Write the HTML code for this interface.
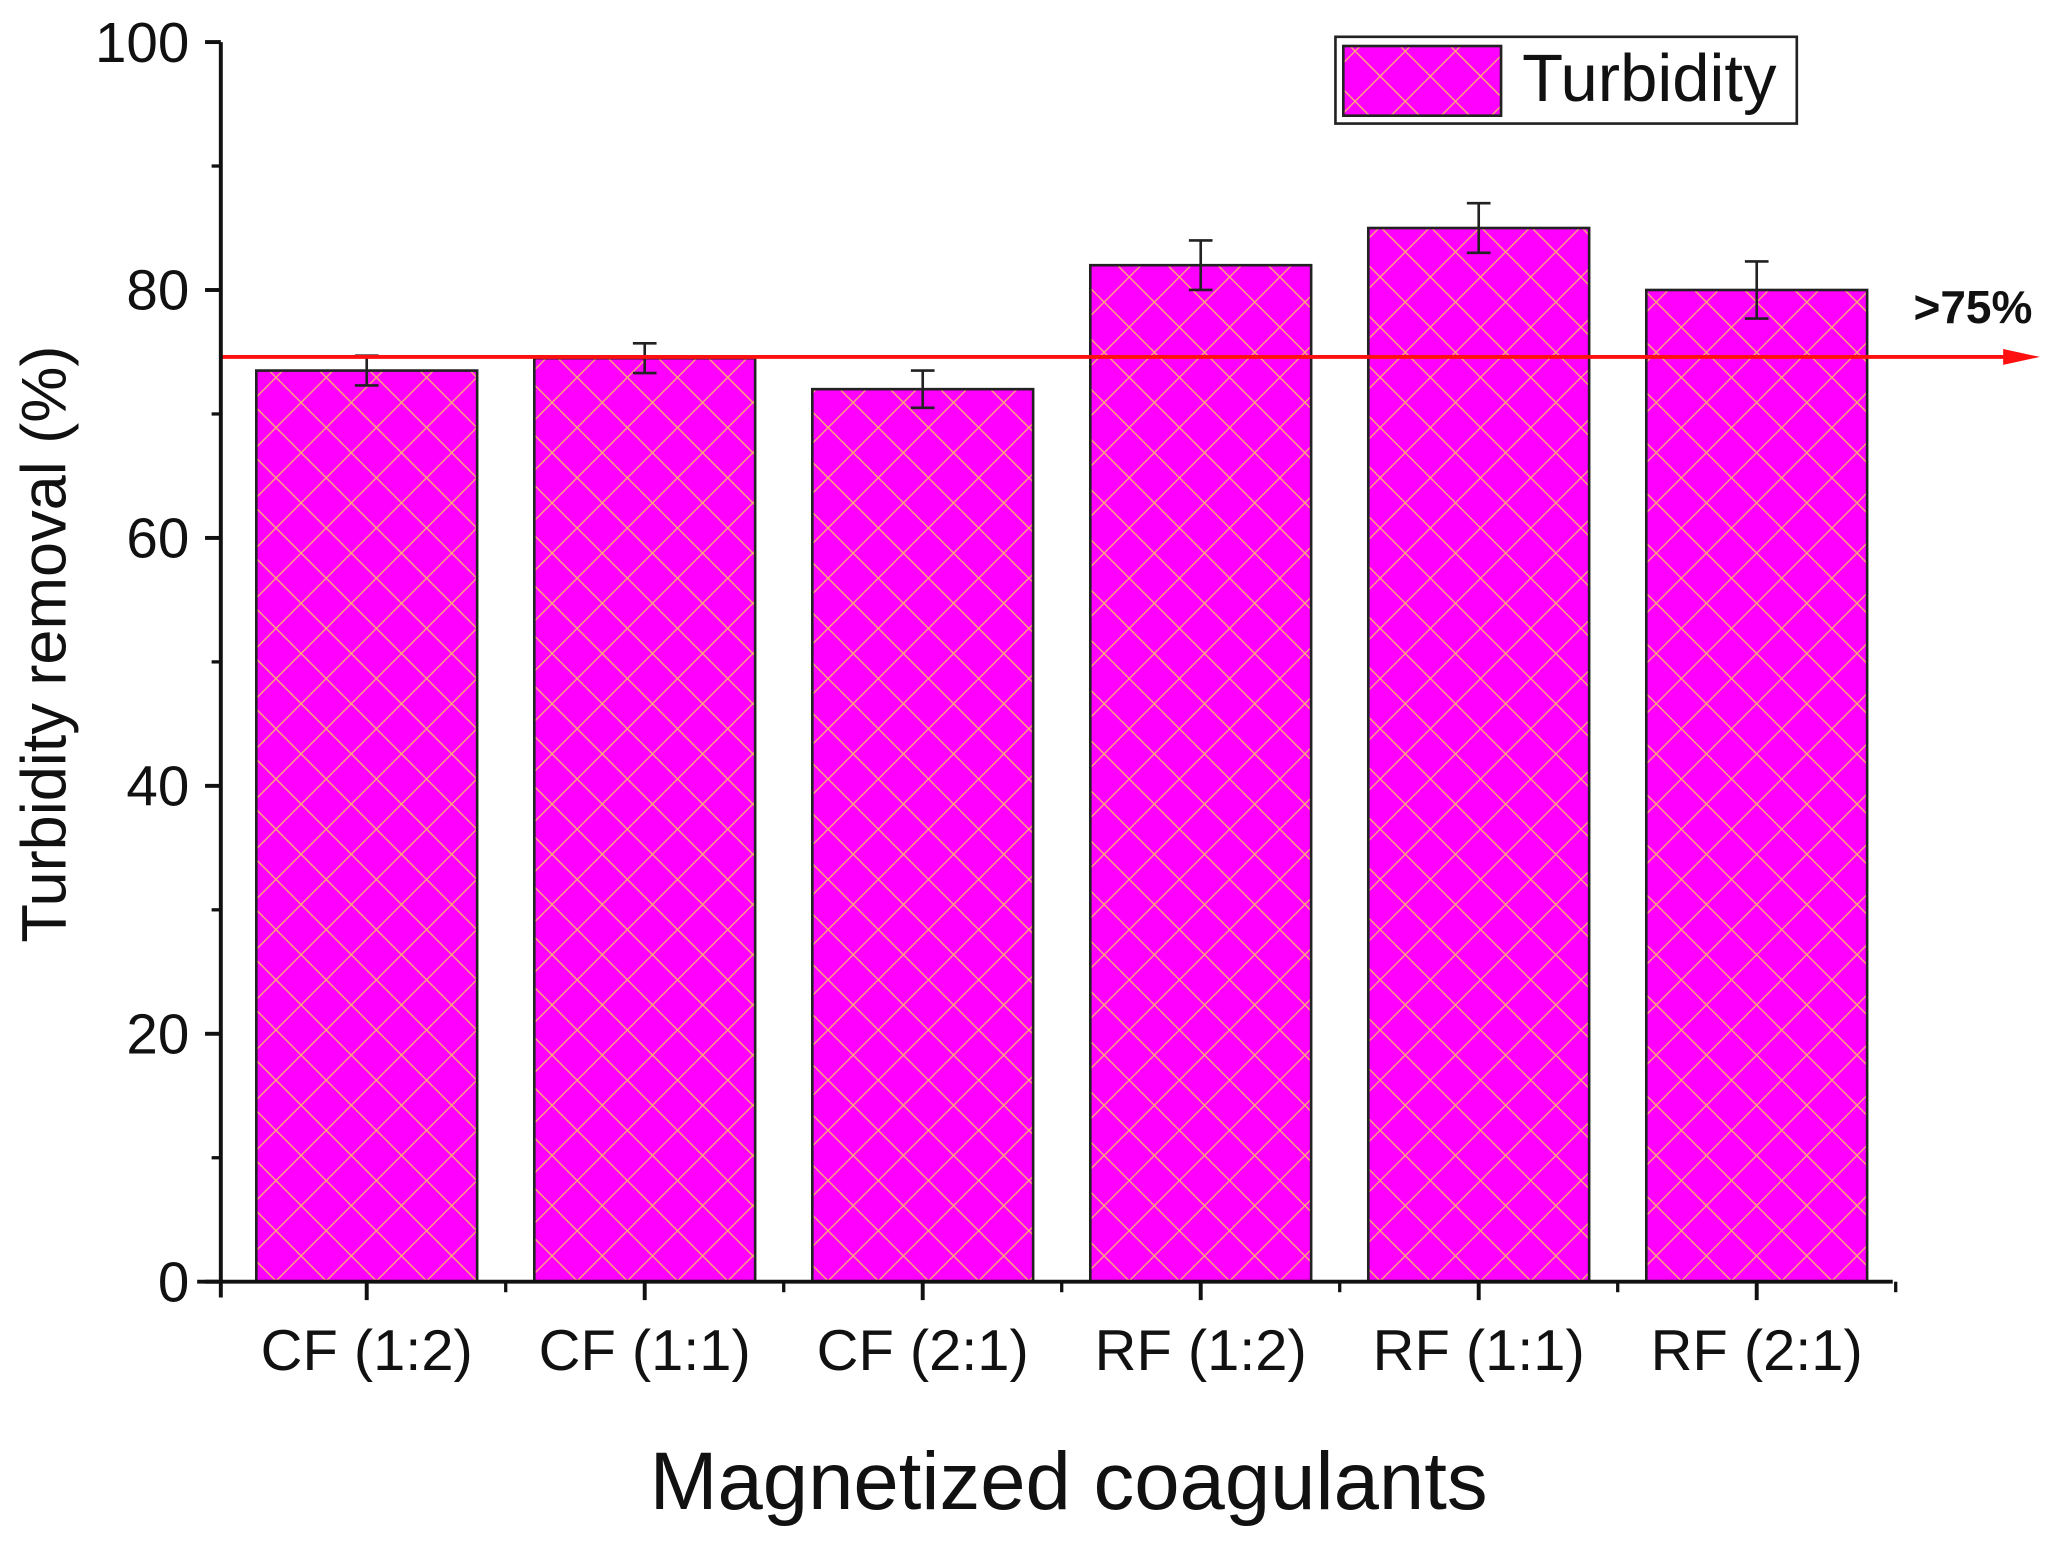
<!DOCTYPE html>
<html><head><meta charset="utf-8"><style>
html,body{margin:0;padding:0;background:#fff;}
svg{display:block;}
text{font-family:"Liberation Sans",Arial,sans-serif;fill:#111;}
</style></head><body>
<svg id="chart" width="2061" height="1542" viewBox="0 0 1568 1173" preserveAspectRatio="none" xmlns="http://www.w3.org/2000/svg">
<defs>
<pattern id="hatch" patternUnits="userSpaceOnUse" width="27" height="27" patternTransform="rotate(45)">
<rect width="27" height="27" fill="#ff00ff"/>
<line x1="0" y1="0" x2="27" y2="0" stroke="#ffb070" stroke-width="2"/>
<line x1="0" y1="0" x2="0" y2="27" stroke="#ffb070" stroke-width="2"/>
</pattern>
</defs>
<g id="plot"></g>
</svg>
<script>
const categories=["CF (1:2)","CF (1:1)","CF (2:1)","RF (1:2)","RF (1:1)","RF (2:1)"];
const values=[73.5,74.5,72,82,85,80];
const errors=[1.2,1.2,1.5,2.0,2.0,2.3];
const yTicks=[0,20,40,60,80,100];
const thresholdValue=74.6;
const thresholdLabel=">75%";

const NS="http://www.w3.org/2000/svg";
const g=document.getElementById('plot');
const X0=168,X1=1440,Y0=975,Y1=32;
const ymin=0,ymax=100;
function y(v){return Y0-(v-ymin)/(ymax-ymin)*(Y0-Y1);}
const step=211.5, firstC=279;
function xc(i){return firstC+i*step;}
const barW=168;
function el(tag,attrs,parent){const e=document.createElementNS(NS,tag);for(const k in attrs)e.setAttribute(k,attrs[k]);(parent||g).appendChild(e);return e;}

values.forEach((v,i)=>{
  const r=el('rect',{x:xc(i)-barW/2,y:y(v),width:barW,height:Y0-y(v),fill:'url(#hatch)',stroke:'#222','stroke-width':2});
  
  
});
values.forEach((v,i)=>{
  const e=errors[i];
  const eg=el('g',{stroke:'#222','stroke-width':2});
  
  
  el('line',{x1:xc(i),x2:xc(i),y1:y(v+e),y2:y(v-e)},eg);
  el('line',{x1:xc(i)-9,x2:xc(i)+9,y1:y(v+e),y2:y(v+e)},eg);
  el('line',{x1:xc(i)-9,x2:xc(i)+9,y1:y(v-e),y2:y(v-e)},eg);
});
const ty=y(thresholdValue);
const th=el('line',{x1:X0,x2:1535,y1:ty,y2:ty,stroke:'#ff1010','stroke-width':3});


const ar=el('polygon',{points:`1524,${ty-6} 1552,${ty} 1524,${ty+6}`,fill:'#ff1010'});


const tl=el('text',{x:1501,y:ty-26,'font-size':35,'font-weight':'bold','text-anchor':'middle'});
tl.textContent=thresholdLabel;



const ya=el('line',{x1:X0,x2:X0,y1:Y1,y2:Y0+12,stroke:'#111','stroke-width':3});


const xa=el('line',{x1:X0-18,x2:X1,y1:Y0,y2:Y0,stroke:'#111','stroke-width':3});


yTicks.forEach(t=>{
  el('line',{x1:X0-12,x2:X0,y1:y(t),y2:y(t),stroke:'#111','stroke-width':3});
  const lb=el('text',{x:X0-24,y:y(t)+15,'font-size':43,'text-anchor':'end'});
  lb.textContent=t;
  
  
});
for(let i=0;i<yTicks.length-1;i++){
  const m=(yTicks[i]+yTicks[i+1])/2;
  el('line',{x1:X0-7,x2:X0,y1:y(m),y2:y(m),stroke:'#111','stroke-width':2.5});
}
categories.forEach((c,i)=>{
  el('line',{x1:xc(i),x2:xc(i),y1:Y0,y2:Y0+14,stroke:'#111','stroke-width':3});
  el('line',{x1:xc(i)+step/2,x2:xc(i)+step/2,y1:Y0,y2:Y0+8,stroke:'#111','stroke-width':2.5});
  const lb=el('text',{x:xc(i),y:1042,'font-size':44,'text-anchor':'middle'});
  lb.textContent=c;
  
  
});
const xt=el('text',{x:813,y:1148,'font-size':62,'text-anchor':'middle'});
xt.textContent='Magnetized coagulants';


const yt=el('text',{x:50,y:490,'font-size':48,'text-anchor':'middle',transform:'rotate(-90 50 490)'});
yt.textContent='Turbidity removal (%)';



const lg=el('g',{});


el('rect',{x:1016,y:28,width:351,height:66,fill:'#fff',stroke:'#222','stroke-width':2},lg);
const sw=el('rect',{x:1022,y:35,width:120,height:53,fill:'url(#hatch)',stroke:'#222','stroke-width':2},lg);


const lt=el('text',{x:1158,y:77,'font-size':51},lg);
lt.textContent='Turbidity';


</script>
</body></html>
